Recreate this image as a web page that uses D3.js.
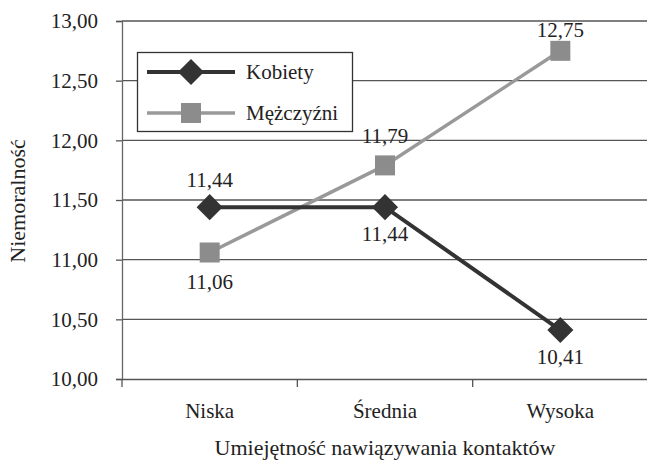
<!DOCTYPE html>
<html><head><meta charset="utf-8">
<script src="https://cdn.jsdelivr.net/npm/d3@7"></script>
<style>body{margin:0;background:#fff}svg{display:block}</style>
</head><body><svg id="c" width="647" height="460"></svg>
<script>
const categories = ["Niska", "Średnia", "Wysoka"];
const kobiety = [11.44, 11.44, 10.41];
const mezczyzni = [11.06, 11.79, 12.75];
const yTicks = [10, 10.5, 11, 11.5, 12, 12.5, 13];
const seriesNames = ["Kobiety", "Mężczyźni"];
const fmt = v => v.toFixed(2).replace(".", ",");

const svg = d3.select("#c");
const L = 122, R = 648, T = 21, B = 379;
const x = d3.scaleBand().domain(categories).range([L, R]).padding(0);
const y = d3.scaleLinear().domain([10, 13]).range([B, T]);

// gridlines
svg.append("g").selectAll("line").data(yTicks.slice(1)).join("line")
  .attr("x1", L).attr("x2", R).attr("y1", d => y(d)).attr("y2", d => y(d))
  .attr("stroke", "#555").attr("stroke-width", 1.3);

// y axis
const ya = svg.append("g").attr("transform", `translate(${L},0)`)
  .call(d3.axisLeft(y).tickValues(yTicks).tickFormat(fmt).tickSize(6).tickPadding(18));
ya.select(".domain").attr("stroke", "#666").attr("stroke-width", 1.3);
ya.selectAll(".tick line").attr("stroke", "#555").attr("stroke-width", 1.3);
ya.selectAll("text").attr("fill", "#222");

// x axis
const xa = svg.append("g").attr("transform", `translate(0,${B})`)
  .call(d3.axisBottom(x).tickSize(0).tickPadding(24));
xa.select(".domain").attr("stroke", "#555").attr("stroke-width", 1.3);
xa.selectAll("text").attr("fill", "#222");
svg.append("g").selectAll("line").data(categories).join("line")
  .attr("x1", d => x(d)).attr("x2", d => x(d)).attr("y1", B).attr("y2", B + 8)
  .attr("stroke", "#555").attr("stroke-width", 1.3);

const cx = c => x(c) + x.bandwidth() / 2;
const line = d3.line().x((d, i) => cx(categories[i])).y(d => y(d));

// Mężczyźni
svg.append("path").datum(mezczyzni).attr("d", line).attr("fill", "none")
  .attr("stroke", "#999").attr("stroke-width", 3.5);
svg.append("g").selectAll("rect").data(mezczyzni).join("rect")
  .attr("x", (d, i) => cx(categories[i]) - 10).attr("y", d => y(d) - 10)
  .attr("width", 20).attr("height", 20).attr("fill", "#8c8c8c");

// Kobiety
svg.append("path").datum(kobiety).attr("d", line).attr("fill", "none")
  .attr("stroke", "#333").attr("stroke-width", 4);
const dia = d3.symbol().type(d3.symbolSquare).size(340);
svg.append("g").selectAll("path").data(kobiety).join("path")
  .attr("d", dia).attr("transform", (d, i) => `translate(${cx(categories[i])},${y(d)}) rotate(45)`)
  .attr("fill", "#333");

// data labels
const kOff = [-20, 34, 34];
const mOff = [36, -22, -14];
svg.append("g").selectAll("text").data(kobiety).join("text")
  .attr("x", (d, i) => cx(categories[i])).attr("y", (d, i) => y(d) + kOff[i])
  .attr("text-anchor", "middle").attr("fill", "#222").text(fmt);
svg.append("g").selectAll("text").data(mezczyzni).join("text")
  .attr("x", (d, i) => cx(categories[i])).attr("y", (d, i) => y(d) + mOff[i])
  .attr("text-anchor", "middle").attr("fill", "#222").text(fmt);

// legend
const lg = svg.append("g");
lg.append("rect").attr("x", 137.5).attr("y", 52.5).attr("width", 215).attr("height", 79)
  .attr("fill", "#fff").attr("stroke", "#333").attr("stroke-width", 1.3);
lg.append("line").attr("x1", 147).attr("x2", 235).attr("y1", 72).attr("y2", 72)
  .attr("stroke", "#333").attr("stroke-width", 4);
lg.append("path").attr("d", dia).attr("transform", "translate(191,72) rotate(45)").attr("fill", "#333");
lg.append("line").attr("x1", 147).attr("x2", 235).attr("y1", 113).attr("y2", 113)
  .attr("stroke", "#999").attr("stroke-width", 3.5);
lg.append("rect").attr("x", 181).attr("y", 103).attr("width", 20).attr("height", 20).attr("fill", "#8c8c8c");
lg.append("text").attr("x", 246).attr("y", 79).attr("fill", "#222").text(seriesNames[0]);
lg.append("text").attr("x", 246).attr("y", 120).attr("fill", "#222").text(seriesNames[1]);

svg.selectAll("text").style("font-family", "\"Liberation Serif\"").style("font-size", "21px");

// axis titles
svg.append("text").attr("x", (L + R) / 2).attr("y", 455).attr("text-anchor", "middle")
  .attr("fill", "#222").style("font-family", "\"Liberation Serif\"").style("font-size", "22px")
  .text("Umiejętność nawiązywania kontaktów");
svg.append("text").attr("transform", "translate(25,201) rotate(-90)").attr("text-anchor", "middle")
  .attr("fill", "#222").style("font-family", "\"Liberation Serif\"").style("font-size", "22px")
  .text("Niemoralność");
</script></body></html>
